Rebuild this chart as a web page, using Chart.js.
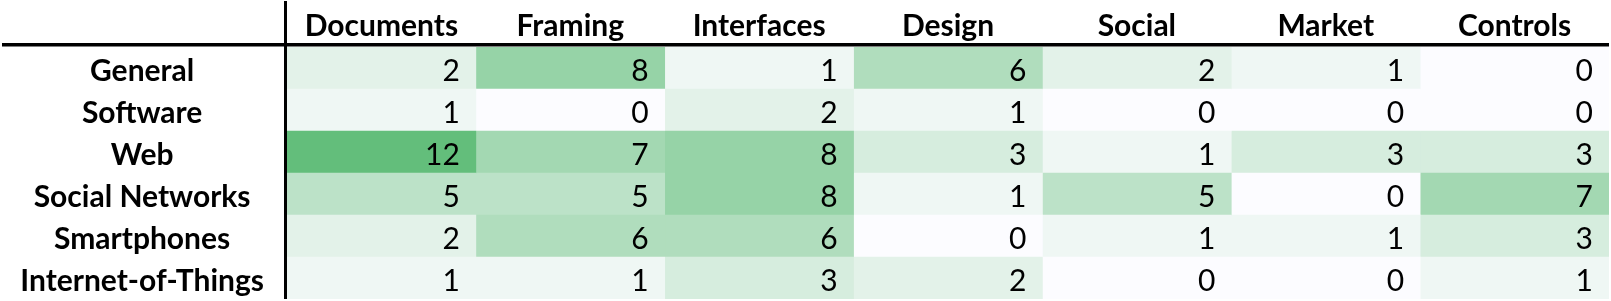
<!DOCTYPE html>
<html>
<head>
<meta charset="utf-8">
<script src="https://cdn.jsdelivr.net/npm/chart.js@4"></script>
<style>
  html, body { margin: 0; padding: 0; background: #fff; }
  #wrap { width: 1611px; height: 301px; }
</style>
</head>
<body>
<div id="wrap"><canvas id="heat"></canvas></div>
<script>
var topics = ["Documents", "Framing", "Interfaces", "Design", "Social", "Market", "Controls"]
var areas = ["General", "Software", "Web", "Social Networks", "Smartphones", "Internet-of-Things"]

var general = [2, 8, 1, 6, 2, 1, 0]
var software = [1, 0, 2, 1, 0, 0, 0]
var web = [12, 7, 8, 3, 1, 3, 3]
var socialNetworks = [5, 5, 8, 1, 5, 0, 7]
var smartphones = [2, 6, 6, 0, 1, 1, 3]
var internetOfThings = [1, 1, 3, 2, 0, 0, 1]

var counts = [general, software, web, socialNetworks, smartphones, internetOfThings]

var maxCount = Math.max.apply(null, counts.map(function (r) { return Math.max.apply(null, r) }))

// excel style green - white scale
function shade(v) {
    var lo = [252, 252, 255], hi = [99, 190, 123]
    var t = v / maxCount
    var c = lo.map(function (l, i) { return Math.round(l + (hi[i] - l) * t) })
    return "rgb(" + c.join(",") + ")"
}

var datasets = topics.map(function (topic, c) {
    return {
        label: topic,
        data: counts.map(function () { return [c, c + 1] }),
        values: counts.map(function (row) { return row[c] }),
        backgroundColor: counts.map(function (row) { return shade(row[c]) }),
        borderWidth: 0,
        barPercentage: 1,
        categoryPercentage: 1,
        grouped: false
    }
})

var FONT = "Lato"

var tableLines = {
    id: "tableLines",
    afterDatasetsDraw: function (chart) {
        var ctx = chart.ctx
        var area = chart.chartArea
        ctx.save()
        // numbers in the cells
        ctx.font = "30px " + FONT
        ctx.fillStyle = "#000"
        ctx.textAlign = "right"
        ctx.textBaseline = "middle"
        chart.data.datasets.forEach(function (ds, i) {
            chart.getDatasetMeta(i).data.forEach(function (bar, j) {
                var p = bar.getProps(["x", "y"], true)
                ctx.fillText(String(ds.values[j]), p.x - 16, p.y + 3)
            })
        })
        // header rule + row label rule
        ctx.strokeStyle = "#000"
        ctx.lineWidth = 3.5
        ctx.beginPath()
        ctx.moveTo(2, 44.75)
        ctx.lineTo(area.right, 44.75)
        ctx.stroke()
        ctx.lineWidth = 3
        ctx.beginPath()
        ctx.moveTo(285.5, 1)
        ctx.lineTo(285.5, area.bottom)
        ctx.stroke()
        ctx.restore()
    }
}

var heat = new Chart(document.getElementById("heat"), {
    type: "bar",
    data: {
        labels: areas,
        datasets: datasets
    },
    options: {
        indexAxis: "y",
        responsive: true,
        maintainAspectRatio: false,
        animation: false,
        layout: { padding: { top: 0, left: 0, right: 2, bottom: 2 } },
        plugins: {
            legend: { display: false },
            tooltip: { enabled: false }
        },
        scales: {
            x: {
                type: "linear",
                position: "top",
                min: 0,
                max: topics.length,
                grid: { display: false, drawTicks: false },
                border: { display: false },
                afterBuildTicks: function (scale) {
                    scale.ticks = topics.map(function (t, i) { return { value: i + 0.5 } })
                },
                afterFit: function (scale) { scale.height = 47 },
                ticks: {
                    autoSkip: false,
                    maxRotation: 0,
                    padding: 3,
                    color: "#000",
                    font: { family: FONT, size: 30, weight: "bold" },
                    callback: function (v, i) { return topics[i] }
                }
            },
            y: {
                type: "category",
                grid: { display: false, drawTicks: false },
                border: { display: false },
                afterFit: function (scale) {
                    scale.width = 287
                    scale.paddingTop = 0
                    scale.paddingBottom = 0
                },
                ticks: {
                    autoSkip: false,
                    crossAlign: "center",
                    padding: 23,
                    labelOffset: 3,
                    color: "#000",
                    font: { family: FONT, size: 30, weight: "bold" }
                }
            }
        }
    },
    plugins: [tableLines]
})
</script>
</body>
</html>
